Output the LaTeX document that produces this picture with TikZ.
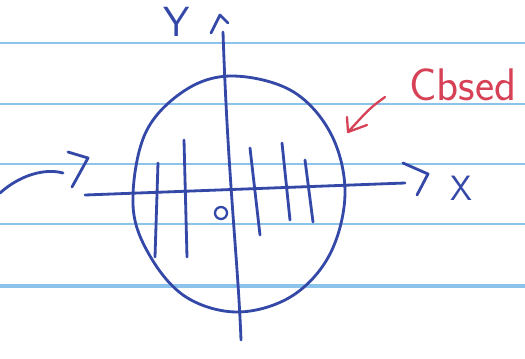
\documentclass[tikz,border=0pt]{standalone}
\usetikzlibrary{positioning,calc}
\definecolor{inkblue}{RGB}{52,72,168}
\definecolor{ruleblue}{RGB}{140,195,235}
\definecolor{inkred}{RGB}{215,65,85}

\begin{document}
\begin{tikzpicture}[x=0.02cm, y=-0.02cm,
        rule/.style={ruleblue, line width=1.1pt},
        ink/.style={inkblue, line width=1.6pt, line cap=round, line join=round},
        redink/.style={inkred, line width=1.3pt, line cap=round, line join=round},
        axislabel/.style={inkblue, font=\fontsize{20}{20}\selectfont\sffamily, inner sep=0pt}
    ]
        \useasboundingbox[fill=white] (0,0) rectangle (525,359);

        % Ruled lines
        \foreach \y in {43,104,164,224}
            \draw[rule] (0,\y) -- (525,\y);
        \draw[rule, line width=1.8pt] (0,286) -- (525,286);

        % Disc
        \draw[ink] plot[smooth cycle, tension=0.6] coordinates {(232,76) (292,91) (331,134) (345,193) (330,254) (292,296) (238,312) (186,297) (150,256) (133,205) (145,134) (184,91)};

        % Hatching
        \foreach \xa/\ya/\xb/\yb in {158/163/155/257, 184/140/187/257, 250/148/260/235, 282/143/290/220, 305/160/313/222}
            \draw[ink] (\xa,\ya) -- (\xb,\yb);

        % Axes
        \coordinate (xstart) at (85,195);
        \coordinate (xend) at (405,183);
        \draw[ink] (xstart) -- (xend);
        \draw[ink] (403,163) -- (428,174) -- (417,195);
        \node[axislabel] (xlab) at (461,188) {X};

        \coordinate (ystart) at (241,340);
        \coordinate (yend) at (223,32);
        \draw[ink] (yend) .. controls (228,180) and (238,260) .. (ystart);
        \draw[ink] (211,33) -- (220,15) -- (228,23);
        \node[axislabel, font=\fontsize{24}{24}\selectfont\sffamily] (ylab) at (177,22) {Y};

        % Origin
        \draw[ink, line width=1.3pt] (221,213) circle[radius=0.12cm];

        % Incoming arrow
        \coordinate (instart) at (0,193);
        \coordinate (inend) at (63,173);
        \draw[ink] (instart) .. controls (20,175) and (45,168) .. (inend);
        \draw[ink] (68,152) -- (88,158) -- (72,187);

        % Note
        \node[inkred, font=\fontsize{26}{26}\selectfont\sffamily, inner sep=0pt] (note) at (463,85) {Cbsed};
        \coordinate (notetail) at (385,97);
        \coordinate (notetip) at (348,132);
        \draw[redink] (notetail) .. controls (370,108) .. (notetip);
        \draw[redink] (347,117) -- (notetip) -- (367,125);
    \end{tikzpicture}
\end{document}
